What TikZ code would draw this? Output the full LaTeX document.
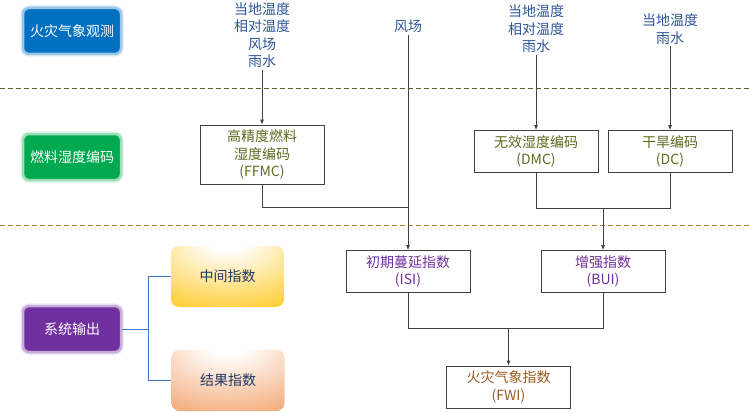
\documentclass[tikz,border=0pt]{standalone}
\usepackage{fontspec}
\setmainfont{Noto Sans CJK SC}
\usetikzlibrary{
    arrows.meta,
    calc
}
\definecolor{obsblue}{HTML}{0070C0}
\definecolor{fuelgreen}{HTML}{00A94F}
\definecolor{outpurple}{HTML}{7030A0}
\definecolor{midgold}{HTML}{FFC000}
\definecolor{endorange}{HTML}{ED7D31}
\definecolor{inblue}{HTML}{2F5597}
\definecolor{codeolive}{HTML}{5B6B1F}
\definecolor{idxpurple}{HTML}{7030A0}
\definecolor{fwibrown}{HTML}{9C5A1E}
\definecolor{labelnavy}{HTML}{1F3864}
\definecolor{linegray}{HTML}{404040}
\definecolor{treeblue}{HTML}{4472C4}
\definecolor{dashgreen}{HTML}{4F6228}
\definecolor{dashgold}{HTML}{A08A3C}
\pgfdeclareradialshading{gold glow}{\pgfpoint{0bp}{32bp}}{
    color(0bp)=(white); color(8bp)=(white);
    color(45bp)=(midgold!75); color(70bp)=(midgold); color(100bp)=(midgold)}
\pgfdeclareradialshading{orange glow}{\pgfpoint{0bp}{32bp}}{
    color(0bp)=(white); color(8bp)=(white);
    color(45bp)=(endorange!60); color(70bp)=(endorange); color(100bp)=(endorange)}
\tikzset {
    every node/.style = {font = \fontsize{14}{17.5}\selectfont},
    level box/.style = {
        rounded corners = 6pt, minimum width = 98pt, minimum height = 46pt,
        text = white, fill = #1, draw = #1!40, line width = 2.5pt,
        preaction = {draw = #1!12, line width = 5.5pt}
    },
    kind box/.style = {
        rounded corners = 8pt, minimum width = 113pt, minimum height = 61pt,
        text = labelnavy, shading = #1, draw = none
    },
    code box/.style = {
        draw = linegray, line width = .8pt, align = center,
        minimum width = 124pt, minimum height = 42pt, text = #1
    },
    input/.style = {text = inblue, align = center, inner sep = 2pt},
    link/.style = {draw = linegray, line width = .8pt},
    feed/.style = {link, arrows = {-Latex[length = 5pt, width = 4pt]}},
    tree/.style = {draw = treeblue, line width = 1pt},
    layer line/.style = {draw = #1, line width = 1pt, dash pattern = on 5pt off 3pt}
}
\begin{document}
\begin{tikzpicture}[x = 1pt, y = -1pt]
    \useasboundingbox (0, 0) rectangle (749, 412);
    % layer separators
    \draw [layer line = dashgreen] (0, 88) -- (749, 88);
    \draw [layer line = dashgold] (0, 225) -- (749, 225);
    % left column
    \node (obs) [level box = obsblue] at (72, 31) {火灾气象观测};
    \node (fuel) [level box = fuelgreen] at (72, 157) {燃料湿度编码};
    \node (output) [level box = outpurple] at (72, 329) {系统输出};
    \node (mid) [kind box = gold glow] at (227.5, 276.5) {中间指数};
    \node (final) [kind box = orange glow] at (228, 380.5) {结果指数};
    \coordinate (fork) at (148, 329);
    \draw [tree] (output.east) -- (fork);
    \draw [tree] (mid.west) -| (fork);
    \draw [tree] (final.west) -| (fork);
    % inputs
    \node (in ffmc) [input] at (262, 35) {当地温度\\相对温度\\风场\\雨水};
    \node (wind) [input] at (408, 26) {风场};
    \node (in dmc) [input] at (536, 29) {当地温度\\相对温度\\雨水};
    \node (in dc) [input] at (670, 29) {当地温度\\雨水};
    % codes
    \node (ffmc) [code box = codeolive, minimum height = 59pt] at (262, 154.5)
        {高精度燃料\\湿度编码\\(FFMC)};
    \node (dmc) [code box = codeolive] at (536, 151.5) {无效湿度编码\\(DMC)};
    \node (dc) [code box = codeolive] at (670, 151.5) {干旱编码\\(DC)};
    % indices
    \node (isi) [code box = idxpurple] at (408, 271.5) {初期蔓延指数\\(ISI)};
    \node (bui) [code box = idxpurple] at (603, 271.5) {增强指数\\(BUI)};
    \node (fwi) [code box = fwibrown] at (508.5, 387) {火灾气象指数\\(FWI)};
    % connectors
    \draw [feed] (in ffmc.south) -- (ffmc.north);
    \draw [feed] (in dmc.south) -- (dmc.north);
    \draw [feed] (in dc.south) -- (dc.north);
    \draw [feed] (wind.south) -- (isi.north);
    \coordinate (isi join) at (408, 207);
    \draw [link] (ffmc.south) |- (isi join);
    \coordinate (bui join) at (603, 208);
    \draw [link] (dmc.south) |- (bui join);
    \draw [link] (dc.south) |- (bui join);
    \draw [feed] (bui join) -- (bui.north);
    \coordinate (fwi join) at (508.5, 328);
    \draw [link] (isi.south) |- (fwi join);
    \draw [link] (bui.south) |- (fwi join);
    \draw [feed] (fwi join) -- (fwi.north);
\end{tikzpicture}
\end{document}
